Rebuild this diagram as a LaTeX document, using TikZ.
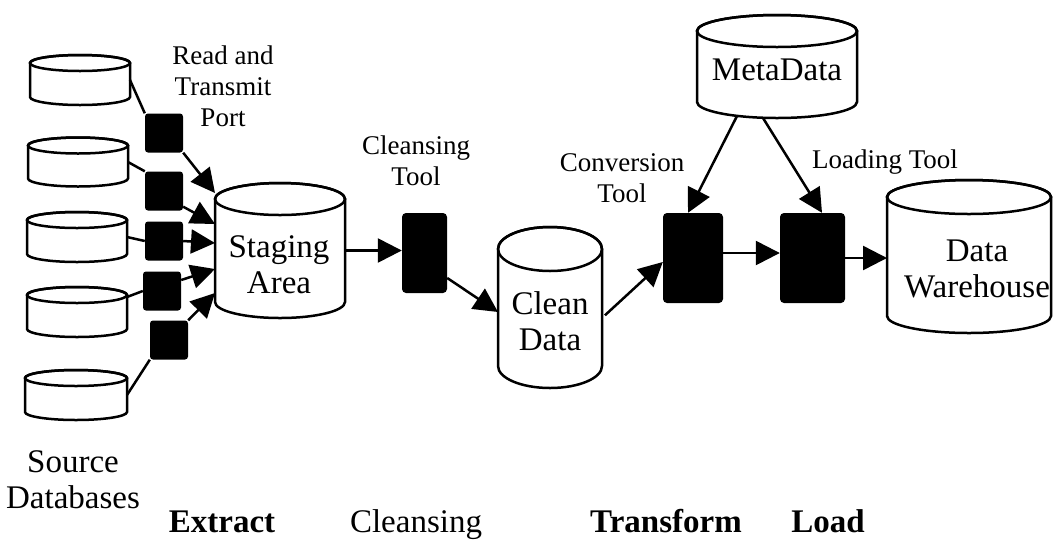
\documentclass[tikz,border=0pt]{standalone}
\usepackage{fontspec}
\setmainfont{Liberation Serif}
\usetikzlibrary{arrows.meta,calc,positioning}

\newcommand\dbdraw[3]{%
  \draw[line width=2.5pt,fill=white]
    ([yshift=-#3pt]#1.north west) -- ([yshift=#3pt]#1.south west)
    arc[start angle=180,end angle=360,x radius=#2pt,y radius=#3pt]
    -- ([yshift=-#3pt]#1.north east)
    arc[start angle=0,end angle=180,x radius=#2pt,y radius=#3pt] -- cycle;
  \draw[line width=2.5pt] ([yshift=-#3pt]#1.north) ellipse[x radius=#2pt,y radius=#3pt];
}

\begin{document}
\begin{tikzpicture}[
                x=1pt,y=1pt,
                db/.style={inner sep=0pt,outer sep=0pt},
                port/.style={fill=black,rounded corners=3pt,inner sep=0pt,minimum width=38pt,minimum height=39pt},
                tool/.style={fill=black,rounded corners=4pt,inner sep=0pt,minimum height=90pt},
                lbl/.style={align=center,font=\fontsize{27}{31}\selectfont},
                big/.style={align=center,font=\fontsize{33}{36}\selectfont},
                stage/.style={anchor=base,inner sep=1pt,font=\fontsize{33}{36}\selectfont},
                link/.style={line width=2.5pt},
                flow/.style={line width=2.5pt,-{Triangle[length=24pt,width=24pt]}}
            ]
                \path[use as bounding box,fill=white] (0,0) rectangle (1054,-542);

                \node[db,minimum width=100pt,minimum height=50pt] (srcA) at (80,-80)  {};
                \node[db,minimum width=100pt,minimum height=49pt] (srcB) at (78,-162) {};
                \node[db,minimum width=100pt,minimum height=50pt] (srcC) at (77,-237) {};
                \node[db,minimum width=100pt,minimum height=50pt] (srcD) at (77,-312) {};
                \node[db,minimum width=102pt,minimum height=50pt] (srcE) at (76,-395) {};
                \node[db,minimum width=130pt,minimum height=135pt] (staging) at (280,-250.5) {};
                \node[db,minimum width=104pt,minimum height=161pt] (clean) at (550,-307.5) {};
                \node[db,minimum width=160pt,minimum height=103pt] (meta) at (777,-66.5) {};
                \node[db,minimum width=164pt,minimum height=153pt] (dw) at (969,-256.5) {};
                \dbdraw{srcA}{50}{8}
                \dbdraw{srcB}{50}{8}
                \dbdraw{srcC}{50}{8}
                \dbdraw{srcD}{50}{8}
                \dbdraw{srcE}{51}{8}
                \dbdraw{staging}{65}{16}
                \dbdraw{clean}{52}{22}
                \dbdraw{meta}{80}{16}
                \dbdraw{dw}{82}{17}

                \node[port] (pA) at (164,-133) {};
                \node[port] (pB) at (164,-191) {};
                \node[port] (pC) at (164,-241) {};
                \node[port] (pD) at (162,-291) {};
                \node[port] (pE) at (169,-340) {};
                \node[tool,minimum width=45pt,minimum height=80pt] (cbox) at (424.5,-253) {};
                \node[tool,minimum width=60pt] (conv) at (693,-258) {};
                \node[tool,minimum width=65pt] (load) at (812.5,-258) {};

                \node[lbl] (rtport) at (223,-86.5) {Read and\\Transmit\\Port};
                \node[lbl] (cltool) at (416,-160.5) {Cleansing\\Tool};
                \node[lbl] (cvtool) at (622,-178) {Conversion\\Tool};
                \node[lbl] (ldtool) at (885,-162) {Loading Tool};
                \node[big] (metatxt) at (777,-70) {MetaData};
                \node[big] (stagetxt) at (279,-265) {Staging\\Area};
                \node[big] (cleantxt) at (550,-321.5) {Clean\\Data};
                \node[big] (dwtxt) at (977,-268.5) {Data\\Warehouse};
                \node[big] (srctxt) at (73,-479.5) {Source\\Databases};
                \node[stage] (extract) at (222,-532) {\bfseries Extract};
                \node[stage] (cleansing) at (416,-532) {Cleansing};
                \node[stage] (transform) at (666,-532) {\bfseries Transform};
                \node[stage] (loadtxt) at (828,-532) {\bfseries Load};

                \draw[link] (srcA.east) -- (pA.north west);
                \draw[link] (srcB.east) -- (pB.north west);
                \draw[link] (srcC.east) -- (pC.west);
                \draw[link] ([yshift=-10pt]srcD.north east) -- (pD.west);
                \draw[link] (srcE.east) -- (pE.south west);

                \draw[flow] (pA.south east) -- ([yshift=57.5pt]staging.west);
                \draw[flow] ([yshift=4pt]pB.south east) -- ([yshift=26.5pt]staging.west);
                \draw[flow] (pC.east) -- ([yshift=7.5pt]staging.west);
                \draw[flow] ([yshift=11pt]pD.east) -- ([yshift=-18.5pt]staging.west);
                \draw[flow] (pE.north east) -- ([yshift=-42.5pt]staging.west);

                \draw[flow] (staging.east) -- (staging.east -| cbox.west);
                \draw[flow] ([yshift=-25pt]cbox.east) -- ([yshift=-4.5pt]clean.west);
                \draw[flow,shorten <=4pt] ([yshift=-10.5pt]clean.east) -- ([yshift=-4pt]conv.west);
                \draw[flow] ([yshift=5pt]conv.east) -- ([yshift=5pt]load.west);
                \draw[flow] (load.east) -- (load.east -| dw.west);
                \draw[flow] ([xshift=-40pt,yshift=2pt]meta.south) -- ([xshift=-5pt]conv.north);
                \draw[flow] ([xshift=-14pt]meta.south) -- ([xshift=9.5pt]load.north);
            \end{tikzpicture}
\end{document}
